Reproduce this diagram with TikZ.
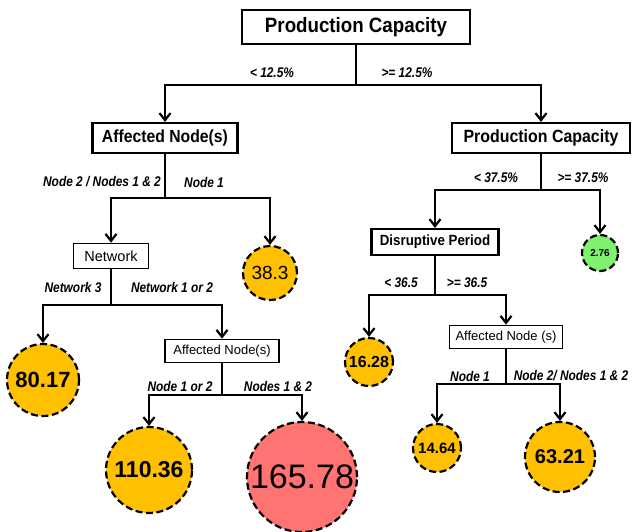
\documentclass[tikz,border=0pt]{standalone}
\usepackage{fontspec}
\setmainfont{Liberation Sans}
\newfontfamily\boxfont[FakeStretch=0.9]{Liberation Sans}
\newfontfamily\lblfont[FakeStretch=0.85]{Liberation Sans}
\usetikzlibrary{arrows.meta}
\definecolor{leafamber}{HTML}{FFC000}
\definecolor{leafred}{HTML}{FF7373}
\definecolor{leafgreen}{HTML}{80F070}
\def\fsz#1{\fontsize{#1}{#1}\selectfont}
\tikzset{
	splitbox/.style={draw, line width=2.2pt, fill=white, inner sep=0pt, font=\boxfont\bfseries},
	smallbox/.style={draw, line width=1.7pt, fill=white, inner sep=0pt},
	leaf/.style={circle, draw, line width=2.2pt, dash pattern=on 7pt off 3.5pt, inner sep=0pt, fill=leafamber},
	stem/.style={line width=2.6pt},
	branch/.style={line width=2.6pt, -{Straight Barb[length=7pt,width=11pt,line width=2.2pt]}},
	cut/.style={inner sep=0pt, font={\lblfont\bfseries\itshape\fsz{14}}}
}

\begin{document}
\begin{tikzpicture}[x=1pt, y=-1pt]
			%%%%% START %%%%%
			\useasboundingbox (0, 0) rectangle (636, 531);
			
			\node[splitbox, minimum width=228pt, minimum height=34pt] (root) at (356, 27) {\fsz{20.8}Production Capacity};
			\coordinate (f0) at (356, 85);
			
			\node[splitbox, minimum width=145pt, minimum height=30pt] (an1) at (165, 138) {\fsz{17.5}Affected Node(s)};
			\node[splitbox, minimum width=178pt, minimum height=30pt] (pc2) at (541, 138) {\fsz{17.7}Production Capacity};
			
			\node[cut] (t0a) at (272, 73) {< 12.5\%};
			\node[cut] (t0b) at (407, 73) {>= 12.5\%};
			
			\draw[stem] (root.south) -- (f0);
			\draw[branch] (f0) -| (an1.north);
			\draw[branch] (f0) -| (pc2.north);
			
			%%%%% LEFT BRANCH %%%%%
			\coordinate (f1) at (165, 198);
			\node[smallbox, minimum width=75pt, minimum height=25pt] (net) at (111, 256) {\fsz{14.5}Network};
			\node[leaf, minimum size=54pt] (c383) at (270, 273) {\fsz{19}38.3};
			
			\node[cut] (t1a) at (102, 182) {Node 2 / Nodes 1 \& 2};
			\node[cut] (t1b) at (204, 182) {Node 1};
			
			\draw[stem] (an1.south) -- (f1);
			\draw[branch] (f1) -| (net.north);
			\draw[branch] (f1) -| (c383.north);
			
			\coordinate (f2) at (111, 305);
			\node[leaf, minimum size=72pt] (c8017) at (43, 380) {\fsz{22}\bfseries 80.17};
			\node[smallbox, minimum width=114pt, minimum height=23pt] (an2) at (222, 351) {\fsz{13}Affected Node(s)};
			
			\node[cut] (t2a) at (73, 287) {Network 3};
			\node[cut] (t2b) at (172, 287) {Network 1 or 2};
			
			\draw[stem] (net.south) -- (f2);
			\draw[branch] (f2) -| (c8017.north);
			\draw[branch] (f2) -| (an2.north);
			
			\coordinate (f3) at (222, 395);
			\node[leaf, minimum size=86pt] (c11036) at (149, 470) {\fsz{23}\bfseries 110.36};
			\node[leaf, minimum size=110pt, fill=leafred] (c16578) at (302, 477) {\fsz{34}165.78};
			
			\node[cut] (t3a) at (180, 386) {Node 1 or 2};
			\node[cut] (t3b) at (278, 386) {Nodes 1 \& 2};
			
			\draw[stem] (an2.south) -- (f3);
			\draw[branch] (f3) -| (c11036.north);
			\draw[branch] (f3) -| (c16578.north);
			
			%%%%% RIGHT BRANCH %%%%%
			\coordinate (f4) at (541, 190);
			\node[splitbox, minimum width=127pt, minimum height=26pt] (dp) at (435, 242) {\fsz{14.8}Disruptive Period};
			\node[leaf, minimum size=36pt, fill=leafgreen] (c276) at (600, 253) {\fsz{10}\bfseries 2.76};
			
			\node[cut] (t4a) at (496, 178) {< 37.5\%};
			\node[cut] (t4b) at (583, 178) {>= 37.5\%};
			
			\draw[stem] (pc2.south) -- (f4);
			\draw[branch] (f4) -| (dp.north);
			\draw[branch] (f4) -| (c276.north);
			
			\coordinate (f5) at (435, 295);
			\node[leaf, minimum size=48pt] (c1628) at (369, 362) {\fsz{16}\bfseries 16.28};
			\node[smallbox, minimum width=113pt, minimum height=23pt] (an3) at (506, 337) {\fsz{13}Affected Node (s)};
			
			\node[cut] (t5a) at (401, 283) {< 36.5};
			\node[cut] (t5b) at (467, 283) {>= 36.5};
			
			\draw[stem] (dp.south) -- (f5);
			\draw[branch] (f5) -| (c1628.north);
			\draw[branch] (f5) -| (an3.north);
			
			\coordinate (f6) at (506, 384);
			\node[leaf, minimum size=48pt] (c1464) at (437, 448) {\fsz{15}\bfseries 14.64};
			\node[leaf, minimum size=70pt] (c6321) at (560, 457) {\fsz{20}\bfseries 63.21};
			
			\node[cut] (t6a) at (470, 376) {Node 1};
			\node[cut] (t6b) at (571, 376) {Node 2/ Nodes 1 \& 2};
			
			\draw[stem] (an3.south) -- (f6);
			\draw[branch] (f6) -| (c1464.north);
			\draw[branch] (f6) -| (c6321.north);
			
			%%%%% END %%%%%
\end{tikzpicture}
\end{document}
